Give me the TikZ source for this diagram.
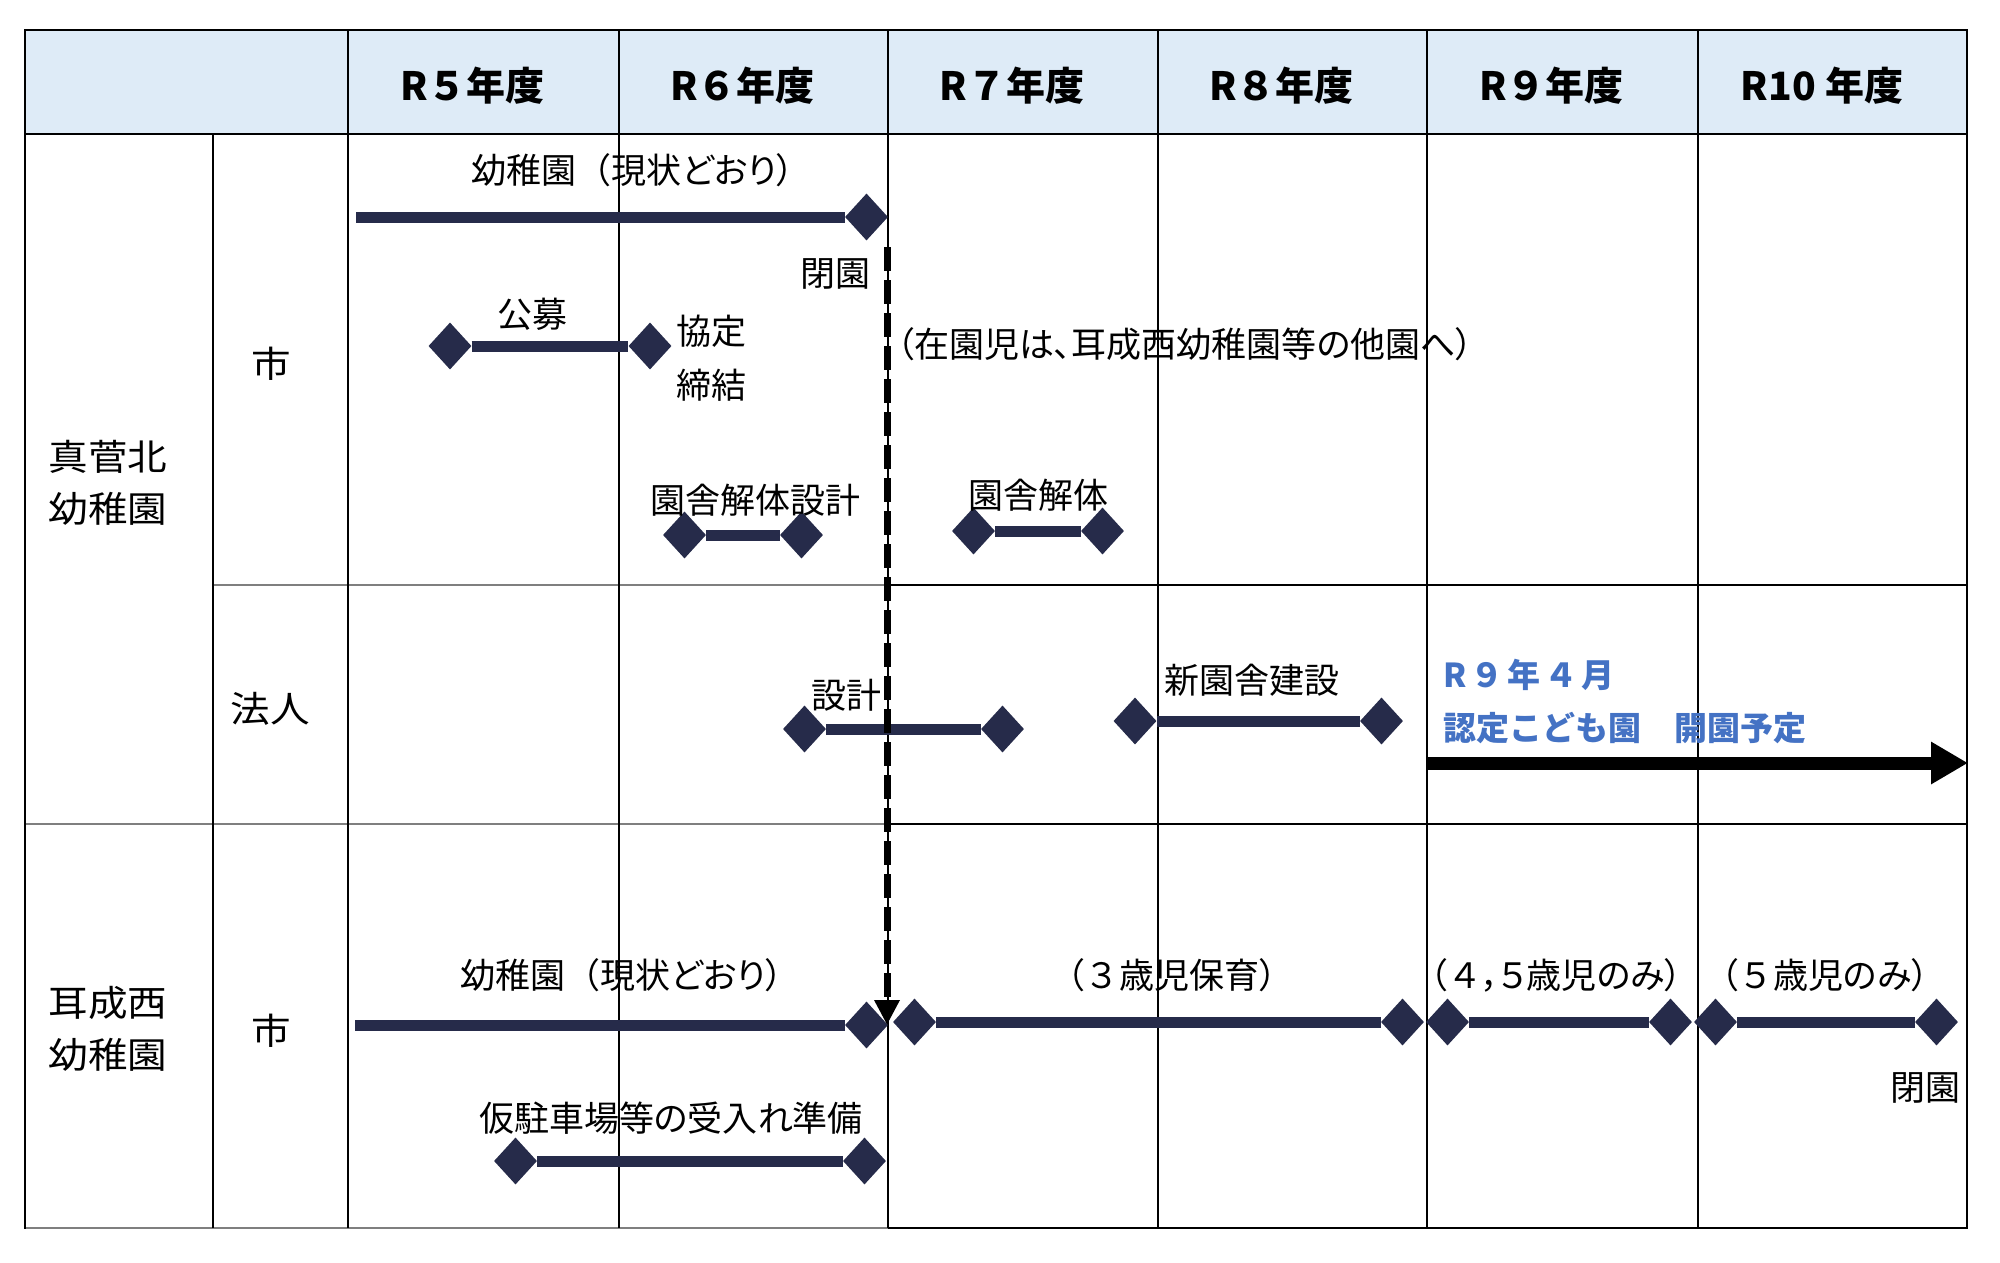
\documentclass[tikz,border=0pt]{standalone}
\usepackage{fontspec}
\usetikzlibrary{arrows.meta,shapes.geometric}
\newfontfamily\jp[RawFeature=+palt]{Noto Sans CJK JP}
\newfontfamily\jpn{Noto Sans CJK JP}
\newfontfamily\jps[FakeStretch=1.1]{Noto Sans CJK JP}
\definecolor{navy}{HTML}{262B4A}
\definecolor{hdr}{HTML}{DEEBF7}
\definecolor{gline}{HTML}{7F7F7F}
\definecolor{blu}{HTML}{4472C4}
\tikzset{
  gridk/.style={line width=2pt, black},
  gridg/.style={line width=2.7pt, gline},
  bar/.style={line width=11pt, navy},
  dia/.style={diamond, fill=navy, draw=none, inner sep=0pt, minimum width=43pt, minimum height=47pt},
  lbl/.style={font=\jp\fontsize{35}{42}\selectfont, inner sep=0pt},
  two/.style={font=\jp\fontsize{35}{54}\selectfont, inner sep=0pt, align=left},
  side/.style={font=\jps\fontsize{36}{52}\selectfont, inner sep=0pt, align=center},
  head/.style={font=\jpn\bfseries\fontsize{39}{46}\selectfont, inner sep=0pt},
  note/.style={font=\jpn\bfseries\fontsize{33}{40}\selectfont, inner sep=0pt, blu, anchor=west},
}
\begin{document}
\begin{tikzpicture}[x=1pt,y=-1pt]
\useasboundingbox (0,0) rectangle (2000,1262);
% header
\fill[hdr] (25,30) rectangle (1967,134);
% grid
\draw[gridg] (213,585) -- (888,585);
\draw[gridg] (25,824) -- (888,824);
\draw[gridg] (25,1228) -- (888,1228);
\draw[gridk] (888,585) -- (1967,585);
\draw[gridk] (888,824) -- (1967,824);
\draw[gridk] (888,1228) -- (1967,1228);
\draw[gridk] (24,30) -- (1968,30);
\draw[gridk] (25,134) -- (1967,134);
\draw[gridk] (25,30) -- (25,1229);
\draw[gridk] (1967,30) -- (1967,1229);
\draw[gridk] (213,134) -- (213,1228);
\foreach \x in {348,619,888,1158,1427,1698} \draw[gridk] (\x,30) -- (\x,1228);
% header texts
\node[head] (h5) at (472.5,86) {R５年度};
\node[head] (h6) at (742.5,86) {R６年度};
\node[head] (h7) at (1012,86) {R７年度};
\node[head] (h8) at (1281.5,86) {R８年度};
\node[head] (h9) at (1551.5,86) {R９年度};
\node[head] (h10) at (1822,86) {R10 年度};
% side labels
\node[side] (g1) at (108,483) {真菅北\\幼稚園};
\node[side] (g2) at (108,1029) {耳成西\\幼稚園};
\node[side] (s1) at (271,364) {市};
\node[side] (s2) at (270,709) {法人};
\node[side] (s3) at (271,1031) {市};
% row 1 bars
\coordinate (k1s) at (356,217);
\node[dia] (k1e) at (866.5,217) {};
\draw[bar] (k1s) -- (k1e);
\node[dia] (p1) at (450,346) {};
\node[dia] (p2) at (650,346) {};
\draw[bar] (p1) -- (p2);
\node[dia] (ds1) at (684.5,535) {};
\node[dia] (ds2) at (801.5,535) {};
\draw[bar] (ds1) -- (ds2);
\node[dia] (dm1) at (973.5,531) {};
\node[dia] (dm2) at (1102.5,531) {};
\draw[bar] (dm1) -- (dm2);
% row 2 bars
\node[dia] (hs1) at (804.5,729) {};
\node[dia] (hs2) at (1002.5,729) {};
\draw[bar] (hs1) -- (hs2);
\node[dia] (nb1) at (1135,721) {};
\node[dia] (nb2) at (1381.5,721) {};
\draw[bar] (nb1) -- (nb2);
\coordinate (ar1) at (1426,763);
\coordinate (ar2) at (1968,763);
\draw[line width=13pt, black, -{Triangle[length=37pt,width=40pt]}] (ar1) -- (ar2);
% row 3 bars
\coordinate (k2s) at (355,1025);
\node[dia] (k2e) at (866.5,1025) {};
\draw[bar] (k2s) -- (k2e);
\node[dia] (c1) at (914.5,1022) {};
\node[dia] (c2) at (1402.5,1022) {};
\draw[bar] (c1) -- (c2);
\node[dia] (c3) at (1447.5,1022) {};
\node[dia] (c4) at (1670.5,1022) {};
\draw[bar] (c3) -- (c4);
\node[dia] (c5) at (1715.5,1022) {};
\node[dia] (c6) at (1936.5,1022) {};
\draw[bar] (c5) -- (c6);
\node[dia] (t1) at (515.5,1161) {};
\node[dia] (t2) at (864.5,1161) {};
\draw[bar] (t1) -- (t2);
% dashed arrow
\coordinate (dtop) at (887,247);
\coordinate (dbot) at (887,1025);
\draw[line width=7pt, black, dash pattern=on 24pt off 9pt, -{Triangle[length=25pt,width=24pt]}] (dtop) -- (dbot);
% labels
\node[lbl] (l1) at (633,170) {幼稚園{\jpn（}現状どおり）};
\node[lbl] (l2) at (835,274) {閉園};
\node[lbl] (l3) at (532,314) {公募};
\node[two, anchor=west] (l4) at (676,358) {協定\\締結};
\node[lbl] (l5) at (1185,344) {（在園児は、耳成西幼稚園等の他園へ）};
\node[lbl] (l6) at (755,500) {園舎解体設計};
\node[lbl] (l7) at (1038,495) {園舎解体};
\node[lbl] (l8) at (846,695) {設計};
\node[lbl] (l9) at (1252,680) {新園舎建設};
\node[note] (n1) at (1443,675) {R\hspace{4pt}９\hspace{4pt}年\hspace{4pt}４\hspace{4pt}月};
\node[note] (n2) at (1443,728) {認定こども園　開園予定};
\node[lbl] (l10) at (622,975) {幼稚園{\jpn（}現状どおり）};
\node[lbl] (l11) at (1172,975) {（{\jpn ３}歳児保育）};
\node[lbl] (l12) at (1556,975) {（{\jpn ４}，５歳児のみ）};
\node[lbl] (l13) at (1825,975) {（{\jpn ５}歳児のみ）};
\node[lbl] (l14) at (1925,1088) {閉園};
\node[lbl] (l15) at (671,1118) {仮駐車場等の受入れ準備};
\end{tikzpicture}
\end{document}
